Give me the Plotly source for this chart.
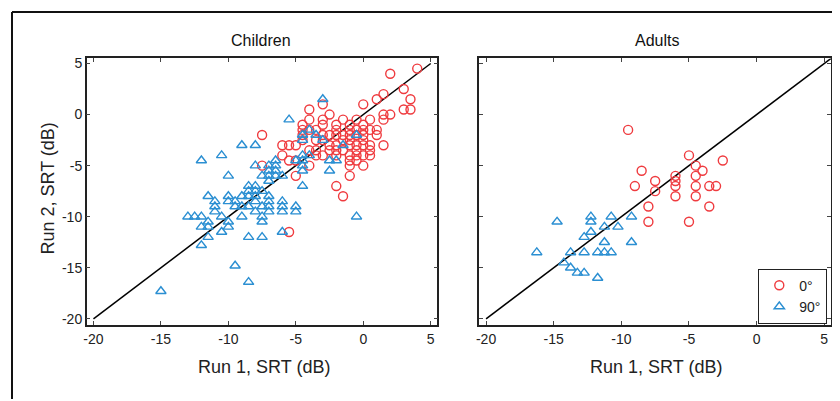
import plotly.graph_objects as go

# ---------------- data ----------------
child_0_x = [4.0, 2.0, 3.0, 3.5, 1.5, 1.0, 0.0, 3.0, 3.5,
             -3.0, -4.0, -2.5, 1.5, 2.0,
             0.5, 1.5, -4.0, -3.0, -1.5, -0.5,
             -4.5, -3.0, -2.0, -1.0, 0.0,
             1.0, -4.5, -4.0, -3.5, -2.0, -1.0, -0.5, 0.0, 0.5,
             -7.5, -4.5, -3.0, -2.5, -2.0, -1.5, -1.0, -0.5, 0.0, 1.0,
             -4.5, -3.5, -3.0, -1.5, -1.0, 0.0,
             -6.0, -5.5, -5.0, -2.5, -2.0, -1.0, -0.5, 0.0, 0.5, 1.5,
             -4.0, -3.5, -2.5, -2.0, -1.5, -0.5, 0.5,
             -6.0, -3.5, -3.0, -2.0, -1.0, -0.5, 0.0, 0.5,
             -5.5, -5.0, -1.0, -0.5,
             -7.5, -4.0, -1.0, 0.0,
             -5.0, -1.0, -2.0, -1.5, -5.5]
child_0_y = [4.5, 4.0, 2.5, 1.5, 2.0, 1.5, 1.0, 0.5, 0.5,
             1.0, 0.5, 0.0, 0.0, 0.0,
             -0.5, -0.5, -0.5, -0.5, -0.5, -0.5,
             -1.0, -1.0, -1.0, -1.0, -1.0,
             -1.5, -1.5, -1.5, -1.5, -1.5, -1.5, -1.5, -1.5, -1.5,
             -2.0, -2.0, -2.0, -2.0, -2.0, -2.0, -2.0, -2.0, -2.0, -2.0,
             -2.5, -2.5, -2.5, -2.5, -2.5, -2.5,
             -3.0, -3.0, -3.0, -3.0, -3.0, -3.0, -3.0, -3.0, -3.0, -3.0,
             -3.5, -3.5, -3.5, -3.5, -3.5, -3.5, -3.5,
             -4.0, -4.0, -4.0, -4.0, -4.0, -4.0, -4.0, -4.0,
             -4.5, -4.5, -4.5, -4.5,
             -5.0, -5.0, -5.0, -5.0,
             -6.0, -6.0, -7.0, -8.0, -11.5]

child_90_x = [-3.0, -5.5, -4.0, -4.5, -3.5, -0.5, -3.0, -4.5, -1.5,
              -9.0, -8.0, -10.5, -12.0, -6.5, -4.5, -4.0, -2.5, -2.0, -5.0, -4.5,
              -8.0, -7.0, -6.5, -4.5, -2.5, -7.0, -6.5, -4.5,
              -10.0, -7.5, -7.0, -6.5, -6.0, -7.0,
              -8.5, -8.0, -4.5, -8.5, -8.0, -7.5,
              -11.5, -10.0, -9.0, -8.5, -8.0, -7.0,
              -11.0, -10.0, -9.5, -8.0, -7.0, -6.0,
              -11.0, -9.5, -9.0, -8.5, -7.5, -7.0, -6.0, -5.0,
              -11.0, -8.0, -7.0, -6.0, -5.0,
              -13.0, -12.5, -12.0, -10.5, -9.0, -7.5, -0.5,
              -11.5, -10.0, -7.5,
              -12.0, -11.5, -10.0,
              -10.5, -6.0,
              -11.5, -8.5, -7.5,
              -12.0,
              -9.5, -8.5, -15.0]
child_90_y = [1.5, -0.5, -1.5, -2.0, -2.0, -2.0, -2.5, -2.5, -3.0,
              -3.0, -3.0, -4.0, -4.5, -4.5, -4.0, -4.0, -4.5, -4.5, -4.5, -4.5,
              -5.0, -5.0, -5.0, -5.0, -5.5, -5.5, -5.5, -5.5,
              -6.0, -6.0, -6.0, -6.0, -6.0, -6.5,
              -7.0, -7.0, -7.0, -7.5, -7.5, -7.5,
              -8.0, -8.0, -8.0, -8.0, -8.0, -8.0,
              -8.5, -8.5, -8.5, -8.5, -8.5, -8.5,
              -9.0, -9.0, -9.0, -9.0, -9.0, -9.0, -9.0, -9.0,
              -9.5, -9.5, -9.5, -9.5, -9.5,
              -10.0, -10.0, -10.0, -10.0, -10.0, -10.0, -10.0,
              -10.5, -10.5, -10.5,
              -11.0, -11.0, -11.0,
              -11.5, -11.5,
              -12.0, -12.0, -12.0,
              -12.8,
              -14.8, -16.4, -17.3]

adult_0_x = [-9.5, -5.0, -2.5, -4.5, -8.5, -4.0, -7.5, -6.0, -6.0, -6.0, -9.0,
             -7.5, -4.5, -4.5, -3.5, -3.0, -6.0, -4.5, -8.0, -3.5, -8.0, -5.0]
adult_0_y = [-1.5, -4.0, -4.5, -5.0, -5.5, -5.5, -6.5, -6.0, -6.5, -7.0, -7.0,
             -7.5, -6.0, -7.0, -7.0, -7.0, -8.0, -8.0, -9.0, -9.0, -10.5, -10.5]

adult_90_x = [-14.75, -12.25, -12.25, -10.75, -9.25, -11.25, -10.25, -12.25, -12.75, -11.25, -9.25,
              -16.25, -13.75, -12.75, -11.75, -11.25, -10.75, -14.25, -13.75, -13.25, -12.75, -11.75]
adult_90_y = [-10.5, -10.0, -10.5, -10.0, -10.0, -11.0, -11.0, -11.5, -12.0, -12.5, -12.5,
              -13.5, -13.5, -13.5, -13.5, -13.5, -13.5, -14.5, -15.0, -15.5, -15.5, -16.0]

ref_line = [-20, 5]
ref_line_r = [-20, 5.5]
tick_vals = [-20, -15, -10, -5, 0, 5]
tick_text = ["-20", "-15", "-10", "-5", "0", "5"]

# ---------------- styling ----------------
RED = "#ef3b3f"
BLUE = "#2b8fd2"
FONT = "Liberation Sans"
OFF = 8            # browser body margin
W, H = 832, 393

def px_x(p):
    return (p - OFF) / W

def px_y(p):
    return 1 - (p - OFF) / H

circle = dict(symbol="circle-open", size=9, color=RED, line=dict(width=1.4, color=RED))
tri = dict(symbol="triangle-up-open", size=9, color=BLUE, line=dict(width=1.4, color=BLUE))

fig = go.Figure()
fig.add_trace(go.Scatter(x=ref_line, y=ref_line, mode="lines", line=dict(color="black", width=1.5),
                         showlegend=False, xaxis="x", yaxis="y", hoverinfo="skip"))
fig.add_trace(go.Scatter(x=child_0_x, y=child_0_y, mode="markers", marker=circle,
                         showlegend=False, xaxis="x", yaxis="y"))
fig.add_trace(go.Scatter(x=child_90_x, y=child_90_y, mode="markers", marker=tri,
                         showlegend=False, xaxis="x", yaxis="y"))
fig.add_trace(go.Scatter(x=ref_line_r, y=ref_line_r, mode="lines", line=dict(color="black", width=1.5),
                         showlegend=False, xaxis="x2", yaxis="y2", hoverinfo="skip"))
fig.add_trace(go.Scatter(x=adult_0_x, y=adult_0_y, mode="markers", marker=circle,
                         name="0°", xaxis="x2", yaxis="y2"))
fig.add_trace(go.Scatter(x=adult_90_x, y=adult_90_y, mode="markers", marker=tri,
                         name="90°", xaxis="x2", yaxis="y2"))

axis_common = dict(showline=True, linecolor="#222", linewidth=1.5, mirror="allticks",
                   ticks="inside", ticklen=4, tickcolor="#444", tickwidth=1,
                   showgrid=False, zeroline=False, tickvals=tick_vals, ticktext=tick_text,
                   tickfont=dict(family=FONT, size=14, color="#222"))

yd = [px_y(326), px_y(56)]
fig.update_layout(
    width=W, height=H, autosize=False,
    margin=dict(l=0, r=0, t=0, b=0),
    paper_bgcolor="white", plot_bgcolor="white",
    font=dict(family=FONT, color="#222"),
    xaxis=dict(domain=[px_x(84), px_x(436)], range=[-20.5, 5.5], anchor="y", **axis_common),
    yaxis=dict(domain=yd, range=[-20.6, 5.5], anchor="x", **axis_common),
    xaxis2=dict(domain=[px_x(478), px_x(831)], range=[-20.5, 5.5], anchor="y2", **axis_common),
    yaxis2=dict(domain=yd, range=[-20.6, 5.5], anchor="x2", showticklabels=False, **axis_common),
    legend=dict(x=px_x(758), y=px_y(269), xanchor="left", yanchor="top",
                bgcolor="white", bordercolor="#222", borderwidth=1,
                font=dict(family=FONT, size=14, color="#222"),
                itemwidth=30, tracegroupgap=2),
    showlegend=True,
)

def label(text, x, y, size, angle=0, color="#222"):
    return dict(text=text, x=px_x(x), y=px_y(y), xref="paper", yref="paper",
                xanchor="center", yanchor="middle", showarrow=False, textangle=angle,
                font=dict(family=FONT, size=size, color=color))

annotations = [
    label("Children", 259, 38, 16, color="#111"),
    label("Adults", 656, 38, 16, color="#111"),
    label("Run 1, SRT (dB)", 262, 369, 18),
    label("Run 1, SRT (dB)", 655, 369, 18),
    label("Run 2, SRT (dB)", 45, 188, 18, angle=-90),
]
fig.update_layout(annotations=annotations)

fig.update_layout(shapes=[
    dict(type="line", xref="paper", yref="paper", x0=px_x(9), x1=1, y0=px_y(9), y1=px_y(9),
         line=dict(color="#111", width=2)),
    dict(type="line", xref="paper", yref="paper", x0=px_x(9), x1=px_x(9), y0=0, y1=px_y(9),
         line=dict(color="#111", width=2)),
])

fig.write_html("out.html")
